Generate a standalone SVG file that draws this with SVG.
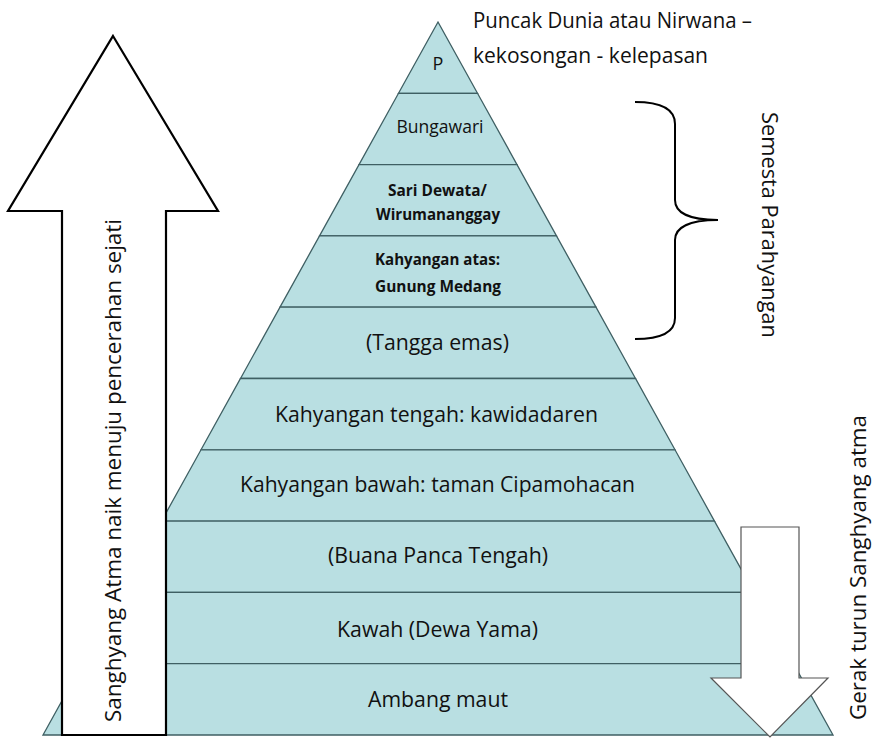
<svg xmlns="http://www.w3.org/2000/svg" width="877" height="739" viewBox="0 0 877 739">
<style>
.layer{fill:#b9dfe2;stroke:#3f5f63;stroke-width:1.3}
.t{font-family:"Open Sans","Liberation Sans",sans-serif;fill:#111;text-anchor:middle}
.b{font-weight:bold}
.arrowL{fill:#fff;stroke:#000;stroke-width:2.2}
.arrowR{fill:#fff;stroke:#555;stroke-width:1.2}
</style>
<rect width="877" height="739" fill="#fff"/>
<g id="pyramid">
<g id="layer-p"><polygon class="layer" points="438,22 477.5,93.3 398.5,93.3"/><text class="t" x="438" y="70" font-size="18">P</text></g>
<g id="layer-bungawari"><polygon class="layer" points="398.5,93.3 477.5,93.3 517,164.6 359,164.6"/><text class="t" x="440" y="133" font-size="18" textLength="87" lengthAdjust="spacingAndGlyphs">Bungawari</text></g>
<g id="layer-sari"><polygon class="layer" points="359,164.6 517,164.6 556.5,235.9 319.5,235.9"/><text class="t b" x="437.5" y="196" font-size="16.5" textLength="99" lengthAdjust="spacingAndGlyphs">Sari Dewata/</text><text class="t b" x="438" y="220" font-size="16.5" textLength="124" lengthAdjust="spacingAndGlyphs">Wirumananggay</text></g>
<g id="layer-atas"><polygon class="layer" points="319.5,235.9 556.5,235.9 596,307.2 280,307.2"/><text class="t b" x="437.5" y="265" font-size="16.5" textLength="125" lengthAdjust="spacingAndGlyphs">Kahyangan atas:</text><text class="t b" x="438" y="292" font-size="16.5" textLength="126" lengthAdjust="spacingAndGlyphs">Gunung Medang</text></g>
<g id="layer-tangga"><polygon class="layer" points="280,307.2 596,307.2 635.5,378.5 240.5,378.5"/><text class="t" x="437.5" y="350" font-size="21.5" textLength="143" lengthAdjust="spacingAndGlyphs">(Tangga emas)</text></g>
<g id="layer-tengah"><polygon class="layer" points="240.5,378.5 635.5,378.5 675,449.8 201,449.8"/><text class="t" x="436.5" y="422" font-size="21.5" textLength="323" lengthAdjust="spacingAndGlyphs">Kahyangan tengah: kawidadaren</text></g>
<g id="layer-bawah"><polygon class="layer" points="201,449.8 675,449.8 714.5,521.1 161.5,521.1"/><text class="t" x="437.5" y="492" font-size="21.5" textLength="395" lengthAdjust="spacingAndGlyphs">Kahyangan bawah: taman Cipamohacan</text></g>
<g id="layer-buana"><polygon class="layer" points="161.5,521.1 714.5,521.1 754,592.4 122,592.4"/><text class="t" x="438" y="563" font-size="21.5" textLength="220" lengthAdjust="spacingAndGlyphs">(Buana Panca Tengah)</text></g>
<g id="layer-kawah"><polygon class="layer" points="122,592.4 754,592.4 793.5,663.7 82.5,663.7"/><text class="t" x="437.5" y="637" font-size="21.5" textLength="201" lengthAdjust="spacingAndGlyphs">Kawah (Dewa Yama)</text></g>
<g id="layer-ambang"><polygon class="layer" points="82.5,663.7 793.5,663.7 833,735 43,735"/><text class="t" x="438" y="707" font-size="21.5" textLength="140" lengthAdjust="spacingAndGlyphs">Ambang maut</text></g>
</g>
<g id="connectors">
<polygon id="arrow-up" class="arrowL" points="113,36 218,211 166,211 166,735 62,735 62,211 8,211"/>
<polygon id="arrow-down" class="arrowR" points="741,527 799,527 799,678 828,678 770,737 711,678 741,678"/>
<path id="brace" d="M635,102 C662,102 675,110 675,124 L675,200 C675,212 688,220 718,220 C688,220 675,228 675,240 L675,318 C675,332 662,339 635,339" fill="none" stroke="#000" stroke-width="2"/>
</g>
<g id="labels">
<text class="t" x="473" y="28" font-size="21.5" text-anchor="start" style="text-anchor:start" textLength="279" lengthAdjust="spacingAndGlyphs">Puncak Dunia atau Nirwana –</text>
<text class="t" x="473" y="63" font-size="21.5" style="text-anchor:start" textLength="235" lengthAdjust="spacingAndGlyphs">kekosongan - kelepasan</text>
<text class="t" transform="translate(121,470.5) rotate(-90)" x="0" y="0" font-size="21.5" textLength="503" lengthAdjust="spacingAndGlyphs">Sanghyang Atma naik menuju pencerahan sejati</text>
<text class="t" transform="translate(866,567.5) rotate(-90)" x="0" y="0" font-size="21.5" textLength="305" lengthAdjust="spacingAndGlyphs">Gerak turun Sanghyang atma</text>
<text class="t" transform="translate(762,225) rotate(90)" x="0" y="0" font-size="21.5" textLength="226" lengthAdjust="spacingAndGlyphs">Semesta Parahyangan</text>
</g>
</svg>
